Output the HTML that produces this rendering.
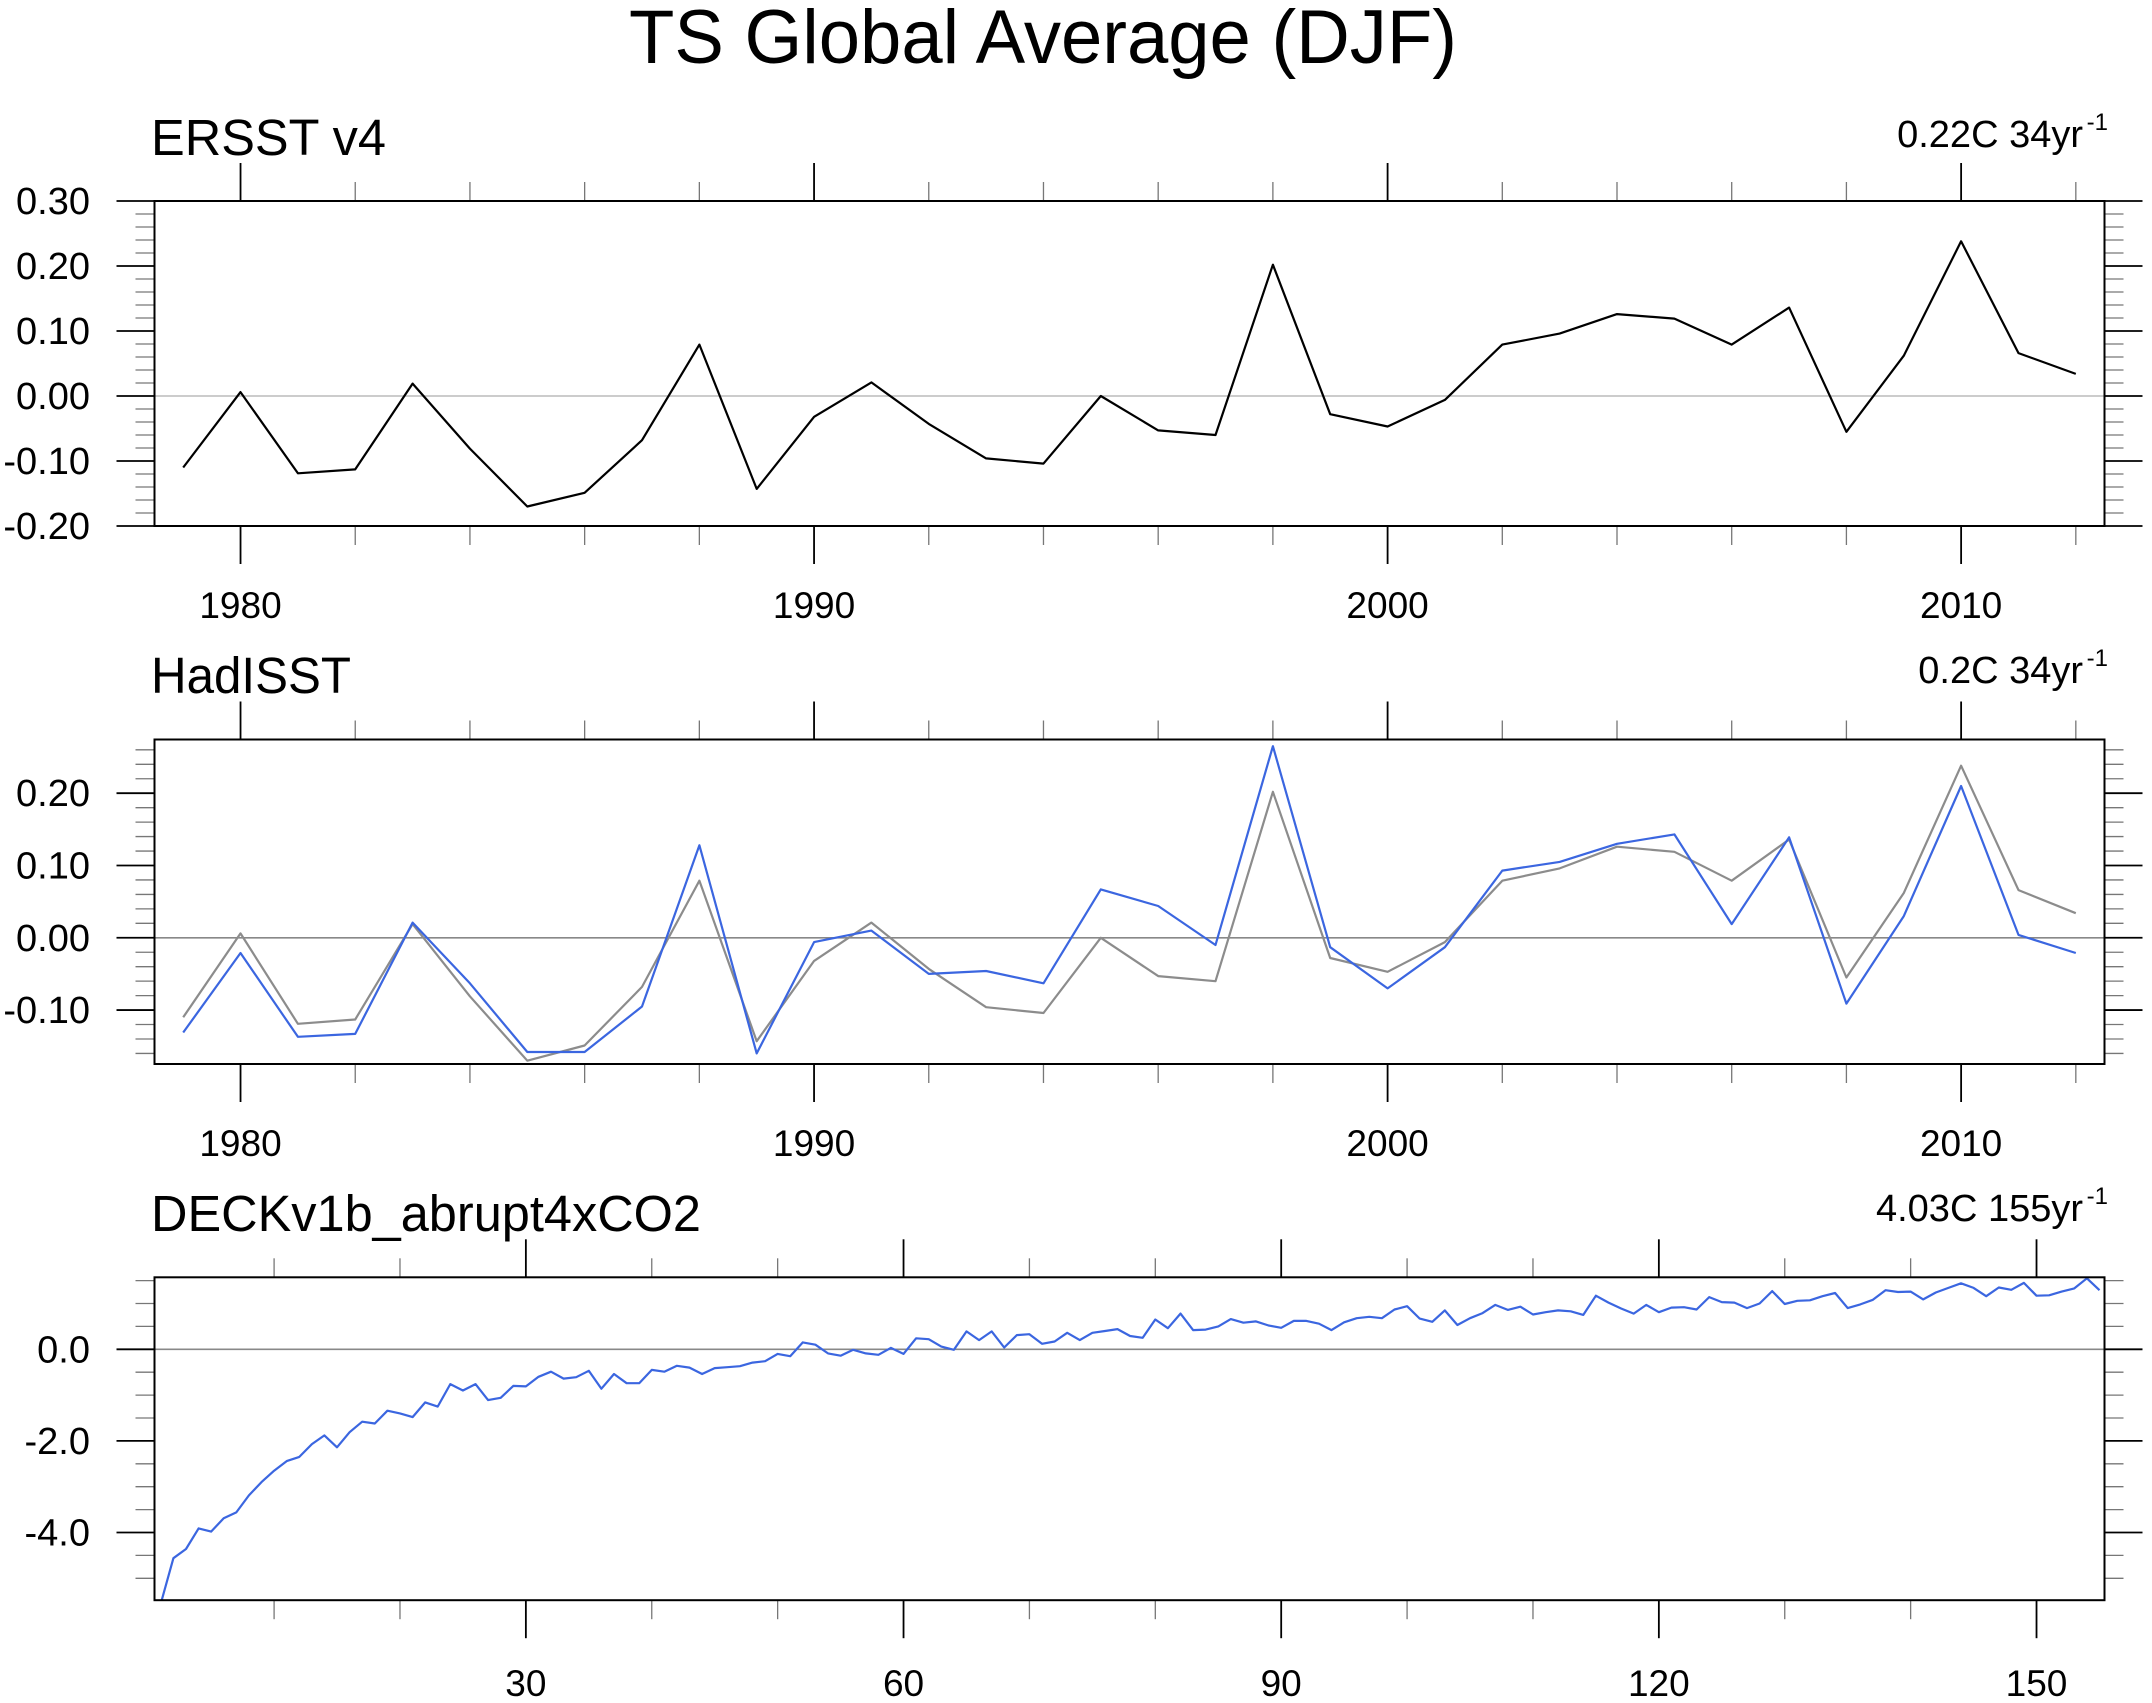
<!DOCTYPE html>
<html><head><meta charset="utf-8"><style>
html,body{margin:0;padding:0;background:#fff;}
svg{display:block;font-family:"Liberation Sans",Arial,sans-serif;}
</style></head><body>
<svg id="chart" width="2152" height="1703" viewBox="0 0 2152 1703" xmlns="http://www.w3.org/2000/svg">
<text x="1043" y="63" font-size="76" text-anchor="middle" textLength="828" lengthAdjust="spacingAndGlyphs">TS Global Average (DJF)</text>
</svg>
<script>
const ersstYears = [1979,1980,1981,1982,1983,1984,1985,1986,1987,1988,1989,1990,1991,1992,1993,1994,1995,1996,1997,1998,1999,2000,2001,2002,2003,2004,2005,2006,2007,2008,2009,2010,2011,2012];
const ersstValues = [-0.11,0.006,-0.119,-0.113,0.019,-0.081,-0.170,-0.149,-0.068,0.079,-0.143,-0.032,0.021,-0.043,-0.096,-0.104,0.0,-0.053,-0.06,0.202,-0.028,-0.047,-0.006,0.079,0.096,0.126,0.119,0.079,0.136,-0.055,0.062,0.238,0.066,0.034];
const hadisstValues = [-0.131,-0.021,-0.137,-0.133,0.021,-0.063,-0.158,-0.158,-0.095,0.128,-0.16,-0.006,0.010,-0.05,-0.046,-0.063,0.067,0.044,-0.01,0.265,-0.013,-0.07,-0.013,0.093,0.105,0.13,0.143,0.019,0.139,-0.091,0.03,0.21,0.004,-0.021];
const deckValues = [-5.55,-4.56,-4.36,-3.91,-3.98,-3.69,-3.56,-3.19,-2.90,-2.65,-2.44,-2.35,-2.07,-1.88,-2.14,-1.81,-1.58,-1.62,-1.34,-1.40,-1.48,-1.16,-1.25,-0.76,-0.90,-0.76,-1.11,-1.06,-0.80,-0.81,-0.60,-0.49,-0.64,-0.61,-0.47,-0.86,-0.54,-0.74,-0.74,-0.45,-0.49,-0.36,-0.40,-0.54,-0.41,-0.39,-0.37,-0.29,-0.26,-0.10,-0.15,0.15,0.10,-0.09,-0.14,-0.01,-0.09,-0.12,0.03,-0.10,0.24,0.22,0.06,-0.01,0.39,0.20,0.39,0.04,0.31,0.33,0.12,0.17,0.36,0.20,0.36,0.40,0.44,0.29,0.25,0.65,0.46,0.78,0.42,0.43,0.50,0.66,0.58,0.61,0.52,0.47,0.62,0.62,0.56,0.42,0.59,0.68,0.71,0.68,0.87,0.94,0.67,0.60,0.85,0.53,0.68,0.79,0.97,0.86,0.93,0.76,0.81,0.85,0.83,0.75,1.17,1.02,0.89,0.78,0.97,0.81,0.91,0.92,0.87,1.14,1.03,1.02,0.90,1.00,1.27,0.99,1.06,1.07,1.16,1.23,0.90,0.98,1.08,1.29,1.25,1.26,1.09,1.24,1.34,1.44,1.34,1.16,1.35,1.30,1.45,1.17,1.18,1.26,1.33,1.55,1.29];
const yearTicks = [1980,1990,2000,2010];
const deckXTicks = [30,60,90,120,150];
const ersstYTicks = ["0.30","0.20","0.10","0.00","-0.10","-0.20"];
const hadYTicks = ["0.20","0.10","0.00","-0.10"];
const deckYTicks = ["0.0","-2.0","-4.0"];

const NS='http://www.w3.org/2000/svg';
const svg=document.getElementById('chart');
function mk(tag,attrs,parent){const e=document.createElementNS(NS,tag);for(const k in attrs)e.setAttribute(k,attrs[k]);(parent||svg).appendChild(e);return e;}
const L=154.5,R=2104.5;

function panel(cfg){
  const g=mk('g',{});
  
  
  const sx=v=>L+(v-cfg.x0)/(cfg.x1-cfg.x0)*(R-L);
  const sy=v=>cfg.top+(cfg.y1-v)/(cfg.y1-cfg.y0)*(cfg.bot-cfg.top);
  const z=mk('line',{x1:L,x2:R,y1:sy(0),y2:sy(0),stroke:cfg.zeroColor,'stroke-width':1.6},g);
  
  
  const eps=1e-9;
  for(let v=Math.ceil(cfg.y0/cfg.yMinor-eps)*cfg.yMinor; v<=cfg.y1+eps; v+=cfg.yMinor){
    const y=sy(v);
    const isMaj=Math.abs(v/cfg.yMajor-Math.round(v/cfg.yMajor))<1e-6;
    const len=isMaj?38:19;
    const col=isMaj?'#000':'#777';
    const w=isMaj?1.8:1.3;
    mk('line',{x1:L-len,x2:L,y1:y,y2:y,stroke:col,'stroke-width':w},g);
    mk('line',{x1:R,x2:R+len,y1:y,y2:y,stroke:col,'stroke-width':w},g);
  }
  cfg.yLabels.forEach(s=>{
    const t=mk('text',{x:90,y:sy(parseFloat(s))+13,'font-size':38,'text-anchor':'end'},g);
    t.textContent=s;
    
    
  });
  for(let v=Math.ceil(cfg.x0/cfg.xMinor)*cfg.xMinor; v<=cfg.x1; v+=cfg.xMinor){
    const x=sx(v);
    const isMaj=(v%cfg.xMajor===0);
    const len=isMaj?38:19;
    const col=isMaj?'#000':'#777';
    const w=isMaj?1.8:1.3;
    mk('line',{x1:x,x2:x,y1:cfg.top-len,y2:cfg.top,stroke:col,'stroke-width':w},g);
    mk('line',{x1:x,x2:x,y1:cfg.bot,y2:cfg.bot+len,stroke:col,'stroke-width':w},g);
  }
  cfg.xLabels.forEach(v=>{
    const t=mk('text',{x:sx(v),y:cfg.xLabelY,'font-size':37,'text-anchor':'middle'},g);
    t.textContent=String(v);
    
    
  });
  const clipId='clip-'+cfg.name;
  const cp=mk('clipPath',{id:clipId},g);
  mk('rect',{x:L,y:cfg.top,width:R-L,height:cfg.bot-cfg.top},cp);
  cfg.series.forEach(s=>{
    const pts=s.vals.map((v,i)=>sx(s.xs[i]).toFixed(1)+','+sy(v).toFixed(1)).join(' ');
    const p=mk('polyline',{points:pts,fill:'none',stroke:s.color,'stroke-width':2.2,'clip-path':'url(#'+clipId+')','stroke-linejoin':'round'},g);
    
    
  });
  const fr=mk('rect',{x:L,y:cfg.top,width:R-L,height:cfg.bot-cfg.top,fill:'none',stroke:'#000','stroke-width':2},g);
  
  
  const t=mk('text',{x:151,y:cfg.titleY,'font-size':51},g);
  t.textContent=cfg.title;
  t.setAttribute('textLength',cfg.titleLen);
  t.setAttribute('lengthAdjust','spacingAndGlyphs');
  
  
  const r=mk('text',{x:2083,y:cfg.rightY,'font-size':38,'text-anchor':'end'},g);
  r.textContent=cfg.right;
  
  
  const sup=mk('text',{x:2108,y:cfg.rightY-17,'font-size':24,'text-anchor':'end'},g);
  sup.textContent='-1';
  
  
}

const deckYears=deckValues.map((v,i)=>i+1);
panel({name:'ersst-panel',top:201,bot:526,x0:1978.5,x1:2012.5,y0:-0.20,y1:0.30,yMinor:0.02,yMajor:0.1,yLabels:ersstYTicks,
  xMinor:2,xMajor:10,xLabels:yearTicks,xLabelY:618,zeroColor:'#bbb',
  series:[{name:'ersst-line',xs:ersstYears,vals:ersstValues,color:'#000'}],
  title:'ERSST v4',titleY:155,titleLen:235,right:'0.22C 34yr',rightY:147});
panel({name:'hadisst-panel',top:739.5,bot:1064,x0:1978.5,x1:2012.5,y0:-0.1746,y1:0.2743,yMinor:0.02,yMajor:0.1,yLabels:hadYTicks,
  xMinor:2,xMajor:10,xLabels:yearTicks,xLabelY:1156,zeroColor:'#888',
  series:[{name:'ersst-reference-line',xs:ersstYears,vals:ersstValues,color:'#8c8c8c'},{name:'hadisst-line',xs:ersstYears,vals:hadisstValues,color:'#3b66e0'}],
  title:'HadISST',titleY:693,titleLen:200,right:'0.2C 34yr',rightY:683});
panel({name:'deck-panel',top:1277.3,bot:1600.2,x0:0.5,x1:155.4,y0:-5.478,y1:1.572,yMinor:0.5,yMajor:2,yLabels:deckYTicks,
  xMinor:10,xMajor:30,xLabels:deckXTicks,xLabelY:1696,zeroColor:'#888',
  series:[{name:'deck-line',xs:deckYears,vals:deckValues,color:'#3b66e0'}],
  title:'DECKv1b_abrupt4xCO2',titleY:1231,titleLen:550,right:'4.03C 155yr',rightY:1221});
</script>
</body></html>
